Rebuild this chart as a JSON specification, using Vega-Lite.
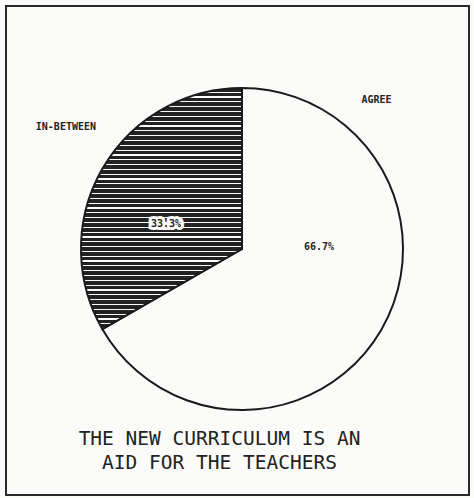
{
  "$schema": "https://vega.github.io/schema/vega-lite/v6.json",
  "width": 474,
  "height": 498,
  "autosize": {"type": "fit", "contains": "padding"},
  "padding": {"left": 5, "top": 5, "right": 4, "bottom": 2},
  "background": "#fbfbf9",
  "data": {
    "values": [
      {"answer": "AGREE", "percent": 66.7, "label": "66.7%", "order": 1},
      {"answer": "IN-BETWEEN", "percent": 33.3, "label": "33.3%", "order": 2}
    ]
  },
  "layer": [
    {
      "data": {"values": [{"frame": 1}]},
      "mark": {"type": "rect", "fill": null, "stroke": "#2a2a2a", "strokeWidth": 2},
      "encoding": {
        "x": {"value": 0},
        "x2": {"value": "width"},
        "y": {"value": 0},
        "y2": {"value": "height"}
      }
    },
    {
      "data": {"values": [{"title": "THE NEW CURRICULUM IS AN|AID FOR THE TEACHERS"}]},
      "mark": {"type": "text", "lineBreak": "|", "baseline": "top", "align": "center", "dx": -18, "dy": -65, "lineHeight": 24, "font": "DejaVu Sans Mono", "fontSize": 19.5, "fill": "#222"},
      "encoding": {
        "y": {"value": "height"},
        "text": {"field": "title"}
      }
    },
    {
      "mark": {"type": "arc", "outerRadius": 161, "stroke": "#1a1a1a", "strokeWidth": 2, "xOffset": 4.5, "yOffset": -1.5},
      "encoding": {
        "theta": {"field": "percent", "type": "quantitative", "stack": true},
        "order": {"field": "order", "type": "quantitative"},
        "fill": {
          "condition": {
            "test": "datum.answer === 'IN-BETWEEN'",
            "value": {
              "gradient": "linear", "x1": 0, "y1": 0, "x2": 0, "y2": 1,
              "stops": [
                {"offset": 0, "color": "#222"},{"offset": 0.015, "color": "#222"},{"offset": 0.015, "color": "#fbfbf9"},
                {"offset": 0.02, "color": "#fbfbf9"},{"offset": 0.02, "color": "#222"},{"offset": 0.035, "color": "#222"},{"offset": 0.035, "color": "#fbfbf9"},
                {"offset": 0.04, "color": "#fbfbf9"},{"offset": 0.04, "color": "#222"},{"offset": 0.055, "color": "#222"},{"offset": 0.055, "color": "#fbfbf9"},
                {"offset": 0.06, "color": "#fbfbf9"},{"offset": 0.06, "color": "#222"},{"offset": 0.075, "color": "#222"},{"offset": 0.075, "color": "#fbfbf9"},
                {"offset": 0.08, "color": "#fbfbf9"},{"offset": 0.08, "color": "#222"},{"offset": 0.095, "color": "#222"},{"offset": 0.095, "color": "#fbfbf9"},
                {"offset": 0.10, "color": "#fbfbf9"},{"offset": 0.10, "color": "#222"},{"offset": 0.115, "color": "#222"},{"offset": 0.115, "color": "#fbfbf9"},
                {"offset": 0.12, "color": "#fbfbf9"},{"offset": 0.12, "color": "#222"},{"offset": 0.135, "color": "#222"},{"offset": 0.135, "color": "#fbfbf9"},
                {"offset": 0.14, "color": "#fbfbf9"},{"offset": 0.14, "color": "#222"},{"offset": 0.155, "color": "#222"},{"offset": 0.155, "color": "#fbfbf9"},
                {"offset": 0.16, "color": "#fbfbf9"},{"offset": 0.16, "color": "#222"},{"offset": 0.175, "color": "#222"},{"offset": 0.175, "color": "#fbfbf9"},
                {"offset": 0.18, "color": "#fbfbf9"},{"offset": 0.18, "color": "#222"},{"offset": 0.195, "color": "#222"},{"offset": 0.195, "color": "#fbfbf9"},
                {"offset": 0.20, "color": "#fbfbf9"},{"offset": 0.20, "color": "#222"},{"offset": 0.215, "color": "#222"},{"offset": 0.215, "color": "#fbfbf9"},
                {"offset": 0.22, "color": "#fbfbf9"},{"offset": 0.22, "color": "#222"},{"offset": 0.235, "color": "#222"},{"offset": 0.235, "color": "#fbfbf9"},
                {"offset": 0.24, "color": "#fbfbf9"},{"offset": 0.24, "color": "#222"},{"offset": 0.255, "color": "#222"},{"offset": 0.255, "color": "#fbfbf9"},
                {"offset": 0.26, "color": "#fbfbf9"},{"offset": 0.26, "color": "#222"},{"offset": 0.275, "color": "#222"},{"offset": 0.275, "color": "#fbfbf9"},
                {"offset": 0.28, "color": "#fbfbf9"},{"offset": 0.28, "color": "#222"},{"offset": 0.295, "color": "#222"},{"offset": 0.295, "color": "#fbfbf9"},
                {"offset": 0.30, "color": "#fbfbf9"},{"offset": 0.30, "color": "#222"},{"offset": 0.315, "color": "#222"},{"offset": 0.315, "color": "#fbfbf9"},
                {"offset": 0.32, "color": "#fbfbf9"},{"offset": 0.32, "color": "#222"},{"offset": 0.335, "color": "#222"},{"offset": 0.335, "color": "#fbfbf9"},
                {"offset": 0.34, "color": "#fbfbf9"},{"offset": 0.34, "color": "#222"},{"offset": 0.355, "color": "#222"},{"offset": 0.355, "color": "#fbfbf9"},
                {"offset": 0.36, "color": "#fbfbf9"},{"offset": 0.36, "color": "#222"},{"offset": 0.375, "color": "#222"},{"offset": 0.375, "color": "#fbfbf9"},
                {"offset": 0.38, "color": "#fbfbf9"},{"offset": 0.38, "color": "#222"},{"offset": 0.395, "color": "#222"},{"offset": 0.395, "color": "#fbfbf9"},
                {"offset": 0.40, "color": "#fbfbf9"},{"offset": 0.40, "color": "#222"},{"offset": 0.415, "color": "#222"},{"offset": 0.415, "color": "#fbfbf9"},
                {"offset": 0.42, "color": "#fbfbf9"},{"offset": 0.42, "color": "#222"},{"offset": 0.435, "color": "#222"},{"offset": 0.435, "color": "#fbfbf9"},
                {"offset": 0.44, "color": "#fbfbf9"},{"offset": 0.44, "color": "#222"},{"offset": 0.455, "color": "#222"},{"offset": 0.455, "color": "#fbfbf9"},
                {"offset": 0.46, "color": "#fbfbf9"},{"offset": 0.46, "color": "#222"},{"offset": 0.475, "color": "#222"},{"offset": 0.475, "color": "#fbfbf9"},
                {"offset": 0.48, "color": "#fbfbf9"},{"offset": 0.48, "color": "#222"},{"offset": 0.495, "color": "#222"},{"offset": 0.495, "color": "#fbfbf9"},
                {"offset": 0.50, "color": "#fbfbf9"},{"offset": 0.50, "color": "#222"},{"offset": 0.515, "color": "#222"},{"offset": 0.515, "color": "#fbfbf9"},
                {"offset": 0.52, "color": "#fbfbf9"},{"offset": 0.52, "color": "#222"},{"offset": 0.535, "color": "#222"},{"offset": 0.535, "color": "#fbfbf9"},
                {"offset": 0.54, "color": "#fbfbf9"},{"offset": 0.54, "color": "#222"},{"offset": 0.555, "color": "#222"},{"offset": 0.555, "color": "#fbfbf9"},
                {"offset": 0.56, "color": "#fbfbf9"},{"offset": 0.56, "color": "#222"},{"offset": 0.575, "color": "#222"},{"offset": 0.575, "color": "#fbfbf9"},
                {"offset": 0.58, "color": "#fbfbf9"},{"offset": 0.58, "color": "#222"},{"offset": 0.595, "color": "#222"},{"offset": 0.595, "color": "#fbfbf9"},
                {"offset": 0.60, "color": "#fbfbf9"},{"offset": 0.60, "color": "#222"},{"offset": 0.615, "color": "#222"},{"offset": 0.615, "color": "#fbfbf9"},
                {"offset": 0.62, "color": "#fbfbf9"},{"offset": 0.62, "color": "#222"},{"offset": 0.635, "color": "#222"},{"offset": 0.635, "color": "#fbfbf9"},
                {"offset": 0.64, "color": "#fbfbf9"},{"offset": 0.64, "color": "#222"},{"offset": 0.655, "color": "#222"},{"offset": 0.655, "color": "#fbfbf9"},
                {"offset": 0.66, "color": "#fbfbf9"},{"offset": 0.66, "color": "#222"},{"offset": 0.675, "color": "#222"},{"offset": 0.675, "color": "#fbfbf9"},
                {"offset": 0.68, "color": "#fbfbf9"},{"offset": 0.68, "color": "#222"},{"offset": 0.695, "color": "#222"},{"offset": 0.695, "color": "#fbfbf9"},
                {"offset": 0.70, "color": "#fbfbf9"},{"offset": 0.70, "color": "#222"},{"offset": 0.715, "color": "#222"},{"offset": 0.715, "color": "#fbfbf9"},
                {"offset": 0.72, "color": "#fbfbf9"},{"offset": 0.72, "color": "#222"},{"offset": 0.735, "color": "#222"},{"offset": 0.735, "color": "#fbfbf9"},
                {"offset": 0.74, "color": "#fbfbf9"},{"offset": 0.74, "color": "#222"},{"offset": 0.755, "color": "#222"},{"offset": 0.755, "color": "#fbfbf9"},
                {"offset": 0.76, "color": "#fbfbf9"},{"offset": 0.76, "color": "#222"},{"offset": 0.775, "color": "#222"},{"offset": 0.775, "color": "#fbfbf9"},
                {"offset": 0.78, "color": "#fbfbf9"},{"offset": 0.78, "color": "#222"},{"offset": 0.795, "color": "#222"},{"offset": 0.795, "color": "#fbfbf9"},
                {"offset": 0.80, "color": "#fbfbf9"},{"offset": 0.80, "color": "#222"},{"offset": 0.815, "color": "#222"},{"offset": 0.815, "color": "#fbfbf9"},
                {"offset": 0.82, "color": "#fbfbf9"},{"offset": 0.82, "color": "#222"},{"offset": 0.835, "color": "#222"},{"offset": 0.835, "color": "#fbfbf9"},
                {"offset": 0.84, "color": "#fbfbf9"},{"offset": 0.84, "color": "#222"},{"offset": 0.855, "color": "#222"},{"offset": 0.855, "color": "#fbfbf9"},
                {"offset": 0.86, "color": "#fbfbf9"},{"offset": 0.86, "color": "#222"},{"offset": 0.875, "color": "#222"},{"offset": 0.875, "color": "#fbfbf9"},
                {"offset": 0.88, "color": "#fbfbf9"},{"offset": 0.88, "color": "#222"},{"offset": 0.895, "color": "#222"},{"offset": 0.895, "color": "#fbfbf9"},
                {"offset": 0.90, "color": "#fbfbf9"},{"offset": 0.90, "color": "#222"},{"offset": 0.915, "color": "#222"},{"offset": 0.915, "color": "#fbfbf9"},
                {"offset": 0.92, "color": "#fbfbf9"},{"offset": 0.92, "color": "#222"},{"offset": 0.935, "color": "#222"},{"offset": 0.935, "color": "#fbfbf9"},
                {"offset": 0.94, "color": "#fbfbf9"},{"offset": 0.94, "color": "#222"},{"offset": 0.955, "color": "#222"},{"offset": 0.955, "color": "#fbfbf9"},
                {"offset": 0.96, "color": "#fbfbf9"},{"offset": 0.96, "color": "#222"},{"offset": 0.975, "color": "#222"},{"offset": 0.975, "color": "#fbfbf9"},
                {"offset": 0.98, "color": "#fbfbf9"},{"offset": 0.98, "color": "#222"},{"offset": 0.995, "color": "#222"},{"offset": 0.995, "color": "#fbfbf9"},
                {"offset": 1, "color": "#fbfbf9"}
              ]
            }
          },
          "value": "#fbfbf9"
        }
      }
    },
    {
      "mark": {"type": "text", "radius": 215, "xOffset": 4.5, "yOffset": -1.5, "dx": 10, "dy": -14.5, "font": "DejaVu Sans Mono", "fontWeight": "bold", "fontSize": 10, "fill": "#222"},
      "encoding": {
        "theta": {"field": "percent", "type": "quantitative", "stack": true},
        "order": {"field": "order", "type": "quantitative"},
        "text": {"condition": {"test": "datum.answer === 'IN-BETWEEN'", "field": "answer"}, "value": ""}
      }
    },
    {
      "mark": {"type": "text", "theta": 0.733, "radius": 201, "xOffset": 4.5, "yOffset": -1.5, "font": "DejaVu Sans Mono", "fontWeight": "bold", "fontSize": 10, "fill": "#222"},
      "encoding": {
        "text": {"condition": {"test": "datum.answer === 'AGREE'", "field": "answer"}, "value": ""}
      }
    },
    {
      "mark": {"type": "text", "radius": 79, "xOffset": 4.5, "yOffset": -1.5, "dx": -7.6, "dy": 14.5, "font": "DejaVu Sans Mono", "fontWeight": "bold", "fontSize": 10, "fill": "#fbfbf9", "stroke": "#fbfbf9", "strokeWidth": 6},
      "encoding": {
        "theta": {"field": "percent", "type": "quantitative", "stack": true},
        "order": {"field": "order", "type": "quantitative"},
        "text": {"condition": {"test": "datum.answer === 'IN-BETWEEN'", "field": "label"}, "value": ""}
      }
    },
    {
      "mark": {"type": "text", "radius": 79, "xOffset": 4.5, "yOffset": -1.5, "dx": -7.6, "dy": 14.5, "font": "DejaVu Sans Mono", "fontWeight": "bold", "fontSize": 10, "fill": "#222"},
      "encoding": {
        "theta": {"field": "percent", "type": "quantitative", "stack": true},
        "order": {"field": "order", "type": "quantitative"},
        "text": {"condition": {"test": "datum.answer === 'IN-BETWEEN'", "field": "label"}, "value": ""}
      }
    },
    {
      "mark": {"type": "text", "theta": 1.545, "radius": 77, "xOffset": 4.5, "yOffset": -1.5, "font": "DejaVu Sans Mono", "fontWeight": "bold", "fontSize": 10, "fill": "#222"},
      "encoding": {
        "text": {"condition": {"test": "datum.answer === 'AGREE'", "field": "label"}, "value": ""}
      }
    }
  ],
  "config": {
    "view": {"stroke": null}
  }
}
